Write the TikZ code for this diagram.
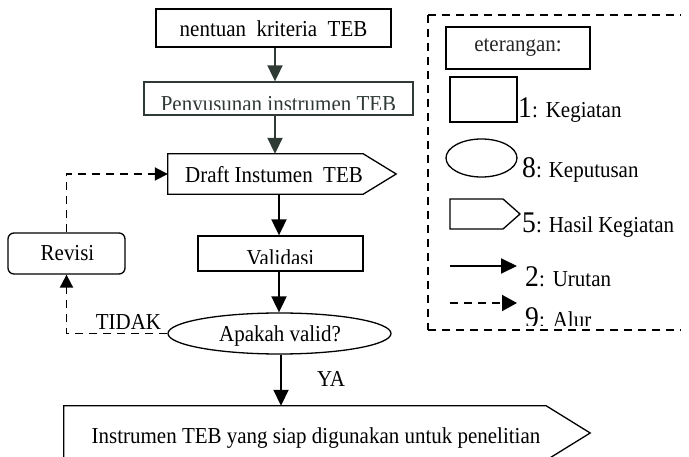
\documentclass[tikz,border=0pt]{standalone}
\usepackage{fontspec}
\setmainfont{Liberation Serif}[FakeStretch=0.92]
\usetikzlibrary{arrows.meta,shapes.geometric}
\newcommand\txtmain{\fontsize{22.8}{26}\selectfont}
\newcommand\bigdigit{\fontsize{30}{32}\selectfont}
\definecolor{inkgray}{HTML}{2F3A35}
\begin{document}
\begin{tikzpicture}[x=1pt,y=-1pt,
  box/.style={draw, line width=1.3pt, inner sep=0pt},
  txt/.style={inner sep=0pt, font=\txtmain},
  flow/.style={line width=1.9pt, -{Triangle[width=15pt,length=16pt]}},
  alur/.style={line width=1.9pt, dash pattern=on 8pt off 6pt, -{Triangle[width=13pt,length=13pt]}},
  legendline/.style={line width=1.3pt, dash pattern=on 8pt off 6pt}]
\useasboundingbox (0,0) rectangle (689,457);

% main column of the flow chart
\node[box, minimum width=235pt, minimum height=38pt] (kriteria) at (273.5,28) {};
\node[txt, anchor=base] (kriteriaT) at (273.5,37) {nentuan\ \ kriteria\ \ TEB};

\node[box, draw=inkgray, minimum width=269pt, minimum height=33pt] (susun) at (278.5,98.5) {};
\begin{scope}
  \clip (144,80) rectangle (414,110);
  \node[txt, anchor=base, text=inkgray] (susunT) at (278.5,112) {Penyusunan instrumen TEB};
\end{scope}

\node[minimum width=195pt, minimum height=40pt, inner sep=0pt] (draft) at (265.5,174) {};
\draw[line width=1.3pt] (draft.north west) -- (draft.north east) -- ([xshift=33pt]draft.east)
  -- (draft.south east) -- (draft.south west) -- cycle;
\node[txt, anchor=base] (draftT) at (274,183) {Draft Instumen\ \ TEB};

\node[box, minimum width=165pt, minimum height=35pt] (valid) at (280.5,253.5) {};
\begin{scope}
  \clip (198,240) rectangle (363,264);
  \node[txt, anchor=base] (validT) at (280.5,266) {Validasi};
\end{scope}

\node[box, rounded corners=6pt, minimum width=117pt, minimum height=41pt] (revisi) at (66.5,253.5) {};
\node[txt, anchor=base] (revisiT) at (67.5,261) {Revisi};

\node[box, ellipse, minimum width=223pt, minimum height=41pt] (cek) at (279.5,333.5) {};
\node[txt, anchor=base] (cekT) at (280,342) {Apakah valid?};

% the last box runs past the lower edge
\begin{scope}
  \clip (0,0) rectangle (689,457);
  \node[minimum width=482pt, minimum height=54pt, inner sep=0pt] (hasil) at (305,433) {};
  \draw[line width=1.3pt] (hasil.north west) -- (hasil.north east) -- ([xshift=44pt]hasil.east)
    -- (hasil.south east) -- (hasil.south west) -- cycle;
\end{scope}
\node[txt, anchor=base] (hasilT) at (316,443) {Instrumen TEB yang siap digunakan untuk penelitian};

\node[txt, anchor=base] (tidak) at (128.5,330) {TIDAK};
\node[txt, anchor=base] (ya) at (331,387) {YA};

% connectors
\draw[flow, draw=inkgray, fill=inkgray] ([xshift=1.5pt]kriteria.south) -- ([xshift=1.5pt]kriteria.south |- susun.north);
\draw[flow, draw=inkgray, fill=inkgray] ([xshift=1.5pt]kriteria.south |- susun.south) -- ([xshift=1.5pt]kriteria.south |- draft.north);
\draw[flow] ([xshift=-1.5pt]valid.north |- draft.south) -- ([xshift=-1.5pt]valid.north);
\draw[flow] ([xshift=-0.5pt]cek.north |- valid.south) -- ([xshift=-0.5pt]cek.north);
\draw[flow] ([xshift=1.5pt]cek.south) -- ([xshift=1.5pt]cek.south |- hasil.north);
\draw[alur] (cek.west) -- (revisi.south |- cek.west) -- (revisi.south);
\draw[alur] (revisi.north) -- (revisi.north |- draft.west) -- (draft.west);

% legend: open on the right
\coordinate (fr1) at (681,15);
\coordinate (fr2) at (428,15);
\coordinate (fr3) at (428,330);
\coordinate (fr4) at (681,330);
\draw[legendline] (fr2) -- (fr1);
\draw[legendline] (fr2) -- (fr3);
\draw[legendline] (fr3) -- (fr4);
\node[box, minimum width=144pt, minimum height=42pt, font=\txtmain, text=black!85] (ket) at (518,48) {eterangan:};
\node[box, minimum width=67pt, minimum height=45pt] (symkeg) at (483.5,99.5) {};
\node[box, ellipse, minimum width=71pt, minimum height=38pt] (symkep) at (481.5,158) {};
\draw[line width=1.3pt] (450,199) -- (503,199) -- (520,214) -- (503,229) -- (450,229) -- cycle;
\coordinate (ua) at (450,266);
\coordinate (ub) at (517,266);
\coordinate (aa) at (450,303);
\coordinate (ab) at (517,303);
\draw[flow] (ua) -- (ub);
\draw[alur, -{Triangle[width=16pt,length=15pt]}] (aa) -- (ab);

\node[txt, anchor=base west] (l1) at (518,118) {{\bigdigit 1}:\hspace{8pt}Kegiatan};
\node[txt, anchor=base west] (l8) at (522,178) {{\bigdigit 8}: Keputusan};
\node[txt, anchor=base west] (l5) at (522,233) {{\bigdigit 5}: Hasil Kegiatan};
\begin{scope}
  \clip (520,250) rectangle (689,286.5);
  \node[txt, anchor=base west] (l2) at (525,287) {{\bigdigit 2}:\hspace{8pt}Urutan};
\end{scope}
\begin{scope}
  \clip (520,300) rectangle (689,326);
  \node[txt, anchor=base west] (l9) at (525,328) {{\bigdigit 9}:\hspace{8pt}Alur};
\end{scope}
\end{tikzpicture}
\end{document}
